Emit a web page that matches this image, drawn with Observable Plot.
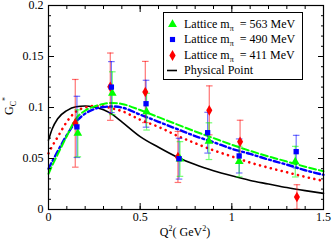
<!DOCTYPE html>
<html><head><meta charset="utf-8">
<script src="https://cdn.jsdelivr.net/npm/d3@7"></script>
<script src="https://cdn.jsdelivr.net/npm/@observablehq/plot@0.6"></script>
<style>
body{margin:0;background:#fff;}
#wrap{position:relative;width:332px;height:241px;font-family:"Liberation Serif","Times New Roman",serif;color:#000;}
#wrap svg.plot{position:absolute;left:0;top:0;overflow:visible;}
.lab{position:absolute;font-size:12px;line-height:12px;white-space:nowrap;}
.lab sup,.lab sub{font-size:8px;line-height:0;position:relative;vertical-align:baseline;}
.lab sup{top:-5px;}
.lab sub{top:3px;}
#legend{position:absolute;left:163px;top:12px;width:138px;height:66px;border:1px solid #000;background:#fff;}
.row{position:absolute;left:0;height:14px;font-size:12px;line-height:14px;white-space:nowrap;}
.row svg{position:absolute;left:2px;top:0;}
.row span{position:absolute;left:20px;top:0;}
.row sub{font-size:8px;line-height:0;position:relative;top:3px;vertical-align:baseline;}
</style></head><body><div id="wrap"></div>
<script>
// Lattice data: Q^2 (GeV^2), G_C^*, error
const q2Green = [0.160, 0.348, 0.535, 0.717, 0.875, 1.040, 1.346];
const gcGreen = [0.0747, 0.1140, 0.0959, 0.0495, 0.0670, 0.0470, 0.0469];
const errGreen = [0.023, 0.021, 0.018, 0.017, 0.018, 0.015, 0.015];

const q2Blue = [0.155, 0.343, 0.532, 0.712, 0.868, 1.040, 1.351];
const gcBlue = [0.0810, 0.1200, 0.1037, 0.0498, 0.0753, 0.0525, 0.0567];
const errBlue = [0.030, 0.025, 0.023, 0.020, 0.020, 0.0167, 0.016];

const q2Red = [0.146, 0.337, 0.528, 0.706, 0.877, 1.045, 1.355];
const gcRed = [0.0845, 0.1204, 0.1152, 0.0515, 0.0972, 0.0665, 0.0123];
const errRed = [0.043, 0.033, 0.030, 0.025, 0.024, 0.021, 0.012];

// Fit curves
const curveQ2 = [0, 0.02, 0.05, 0.1, 0.15, 0.2, 0.25, 0.3, 0.35, 0.4, 0.5, 0.6, 0.7, 0.8, 0.9, 1.0, 1.1, 1.2, 1.3, 1.4, 1.5];
const curveGreen = [0.035, 0.043, 0.054, 0.072, 0.089, 0.097, 0.101, 0.1035, 0.1045, 0.1035, 0.0975, 0.0905, 0.0835, 0.0765, 0.0700, 0.0635, 0.0575, 0.052, 0.047, 0.042, 0.0375];
const curveBlue = [0.040, 0.047, 0.057, 0.073, 0.086, 0.094, 0.0985, 0.1005, 0.101, 0.100, 0.093, 0.086, 0.079, 0.072, 0.066, 0.0595, 0.0545, 0.049, 0.044, 0.0385, 0.034];
const curveRed = [0.055, 0.062, 0.071, 0.086, 0.096, 0.100, 0.1015, 0.101, 0.099, 0.0965, 0.088, 0.081, 0.0725, 0.065, 0.058, 0.052, 0.046, 0.041, 0.0365, 0.032, 0.028];
const curvePhys = [0.068, 0.079, 0.089, 0.097, 0.1008, 0.1015, 0.1003, 0.0978, 0.093, 0.086, 0.0715, 0.061, 0.0515, 0.044, 0.038, 0.033, 0.0285, 0.025, 0.0215, 0.0185, 0.0158];

const xMajor = [0, 0.5, 1, 1.5];
const yMajor = [0, 0.05, 0.1, 0.15, 0.2];
const legendLabels = ["563 MeV", "490 MeV", "411 MeV"];

const colors = {green: "#00ff00", blue: "#0000ff", red: "#ff0000"};

function pts(q, g, e, s) { return q.map((x, i) => ({x, y: g[i], lo: g[i] - e[i], hi: g[i] + e[i], s})); }
const points = [...pts(q2Red, gcRed, errRed, "red"), ...pts(q2Blue, gcBlue, errBlue, "blue"), ...pts(q2Green, gcGreen, errGreen, "green")];
const curve = (ys) => curveQ2.map((x, i) => ({x, y: ys[i]}));

const xMinor = d3.ticks(0, 1.5, 15);
const yMinor = d3.ticks(0, 0.2, 20);

const cap = {draw(ctx, size) { const r = Math.sqrt(size / Math.PI); ctx.moveTo(-r, 0); ctx.lineTo(r, 0); }};

const symOf = {green: "triangle", blue: "square", red: "diamond"};
const rOf = {green: 3.3, blue: 2.9, red: 3.3};

const chart = Plot.plot({
  width: 332, height: 241,
  marginLeft: 48, marginRight: 9, marginTop: 5, marginBottom: 32,
  style: {fontFamily: "Liberation Serif, Times New Roman, serif", fontSize: "12px", color: "#000", background: "transparent", overflow: "visible"},
  x: {domain: [0, 1.5]},
  y: {domain: [0, 0.2]},
  marks: [
    Plot.line(curve(curvePhys), {x: "x", y: "y", stroke: "#000", strokeWidth: 1.6, curve: "monotone-x"}),
    Plot.line(curve(curveRed), {x: "x", y: "y", stroke: colors.red, strokeWidth: 2.6, strokeDasharray: "0.1,5.5", strokeLinecap: "round", curve: "monotone-x"}),
    Plot.line(curve(curveBlue), {x: "x", y: "y", stroke: colors.blue, strokeWidth: 2.4, strokeDasharray: "6,3,2,3", curve: "monotone-x"}),
    Plot.line(curve(curveGreen), {x: "x", y: "y", stroke: colors.green, strokeWidth: 2, strokeDasharray: "7,3", curve: "monotone-x"}),
    Plot.ruleX(points, {x: "x", y1: "lo", y2: "hi", stroke: d => colors[d.s], strokeOpacity: 0.55, strokeWidth: 1.2}),
    Plot.dot(points, {x: "x", y: "lo", symbol: cap, r: 3.3, stroke: d => colors[d.s], strokeOpacity: 0.55, strokeWidth: 1.2, fill: "none"}),
    Plot.dot(points, {x: "x", y: "hi", symbol: cap, r: 3.3, stroke: d => colors[d.s], strokeOpacity: 0.55, strokeWidth: 1.2, fill: "none"}),
    Plot.dot(points, {x: "x", y: "y", symbol: d => symOf[d.s], r: d => rOf[d.s], fill: d => colors[d.s], stroke: "none"}),
    Plot.axisX({ticks: xMajor, tickSize: 0, tickPadding: 3, tickFormat: d => String(d), label: null}),
    Plot.axisX({ticks: xMinor, tickSize: -3, fill: "none", label: null}),
    Plot.axisX({ticks: xMajor, tickSize: -6, fill: "none", label: null}),
    Plot.axisX({anchor: "top", ticks: xMinor, tickSize: -3, fill: "none", label: null}),
    Plot.axisX({anchor: "top", ticks: xMajor, tickSize: -6, fill: "none", label: null}),
    Plot.axisY({ticks: yMajor, tickSize: 0, tickPadding: 5, tickFormat: d => String(d), label: null}),
    Plot.axisY({ticks: yMinor, tickSize: -3, fill: "none", label: null}),
    Plot.axisY({ticks: yMajor, tickSize: -6, fill: "none", label: null}),
    Plot.axisY({anchor: "right", ticks: yMinor, tickSize: -3, fill: "none", label: null}),
    Plot.axisY({anchor: "right", ticks: yMajor, tickSize: -6, fill: "none", label: null}),
    Plot.frame({stroke: "#000", strokeWidth: 1.2})
  ]
});
chart.classList.add("plot");
const wrap = document.getElementById("wrap");
wrap.appendChild(chart);

// Axis titles
const yl = document.createElement("div");
yl.className = "lab";
yl.style.left = "9px"; yl.style.top = "106px";
yl.style.transform = "translate(-50%,-50%) rotate(-90deg)";
yl.innerHTML = "G<sub>C</sub><sup>*</sup>";
wrap.appendChild(yl);

const xl = document.createElement("div");
xl.className = "lab";
xl.style.left = "185px"; xl.style.top = "232px";
xl.style.transform = "translate(-50%,-50%)";
xl.innerHTML = "Q<sup>2</sup>( GeV<sup>2</sup>)";
wrap.appendChild(xl);

// Legend
const legend = document.createElement("div");
legend.id = "legend";
wrap.appendChild(legend);
const entries = [
  {s: "green", text: `Lattice m<sub>π</sub>&nbsp; = ${legendLabels[0]}`},
  {s: "blue", text: `Lattice m<sub>π</sub>&nbsp; = ${legendLabels[1]}`},
  {s: "red", text: `Lattice m<sub>π</sub>&nbsp; = ${legendLabels[2]}`},
  {s: "phys", text: "Physical Point"}
];
entries.forEach((e, i) => {
  const row = document.createElement("div");
  row.className = "row";
  row.style.top = (4 + i * 15.4) + "px";
  let sw;
  if (e.s === "phys") {
    sw = `<svg width="14" height="14"><line x1="1" x2="11" y1="7.5" y2="7.5" stroke="#000" stroke-width="1.6"/></svg>`;
  } else {
    const r = rOf[e.s];
    const p = d3.symbol(d3["symbol" + {green: "Triangle", blue: "Square", red: "Diamond"}[e.s]], r * r * Math.PI)();
    sw = `<svg width="14" height="14"><path transform="translate(6.5,7.5)" d="${p}" fill="${colors[e.s]}"/></svg>`;
  }
  row.innerHTML = sw + `<span>${e.text}</span>`;
  legend.appendChild(row);
});
</script>
</body></html>
